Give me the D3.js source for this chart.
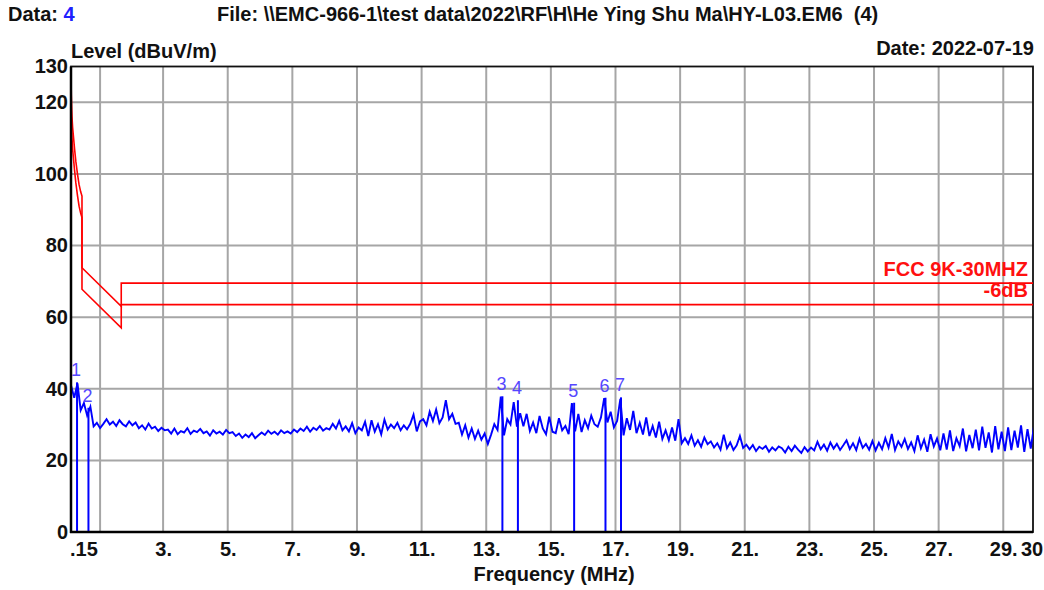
<!DOCTYPE html>
<html>
<head>
<meta charset="utf-8">
<script src="https://cdn.jsdelivr.net/npm/d3@7"></script>
<style>
  body { margin: 0; background: #fff; }
  svg { display: block; font-family: "Liberation Sans", Arial, sans-serif; }
</style>
</head>
<body>
<svg width="1044" height="590"></svg>
<script>
// y axis ticks (dBuV/m) and x grid (MHz)
const yTicks = [0, 20, 40, 60, 80, 100, 120, 130];
const yGrid = [20, 40, 60, 80, 100, 120];
const xGrid = [1.05, 3, 5, 7, 9, 11, 13, 15, 17, 19, 21, 23, 25, 27, 29];
const xLabels = [3, 5, 7, 9, 11, 13, 15, 17, 19, 21, 23, 25, 27, 29];

// FCC 9K-30MHZ limit and the -6dB line
const limitMHz = [0.15, 0.16, 0.18, 0.2, 0.23, 0.26, 0.3, 0.35, 0.4, 0.45, 0.49, 0.49, 1.705, 1.705, 30];
const limitLevel = [128.5, 122, 116, 113, 110, 107, 103.5, 100, 97, 95, 93.8, 73.8, 63.0, 69.5, 69.5];
const marginLevel = [122.5, 116, 110, 107, 104, 101, 97.5, 94, 91, 89, 87.8, 67.8, 57.0, 63.5, 63.5];

// measured trace, first point at 0.15 MHz, one point every 0.1 MHz
const traceStart = 0.15;
const traceStep = 0.1;
const traceLevel = [
  41.0, 37.5, 41.5, 34.0, 36.0, 32.5, 35.0, 29.5, 30.5, 29.0,
  30.2, 31.5, 30.0, 30.8, 29.6, 31.2, 30.1, 29.5, 30.9, 29.8,
  30.6, 29.0, 29.8, 28.6, 30.3, 28.9, 29.4, 28.2, 29.1, 28.4,
  28.6, 27.5, 28.9, 27.3, 28.2, 27.8, 29.0, 27.4, 28.3, 27.9,
  28.8, 27.6, 28.1, 26.9, 28.4, 27.5, 28.0, 27.2, 28.5, 27.6,
  27.9, 26.8, 27.5, 26.3, 27.2, 26.5, 27.6, 26.2, 27.0, 27.8,
  27.1, 28.3, 27.4, 28.0, 27.2, 28.4, 27.6, 28.1, 27.5, 28.6,
  27.9, 28.9, 28.2, 29.4, 28.0, 29.1, 28.5, 29.6, 28.3, 29.0,
  28.6, 30.2, 28.9, 31.0, 28.4, 29.5, 28.1, 30.4, 27.6, 29.2,
  28.4, 30.8, 26.8, 31.2, 28.0, 30.1, 27.3, 31.4, 28.6, 30.0,
  29.0, 30.5, 28.4, 29.8, 28.7, 30.2, 32.8, 28.1, 30.9, 31.5,
  29.8, 33.6, 31.0, 34.2, 30.4, 32.0, 36.8, 31.5, 33.0, 30.2,
  30.5, 27.2, 29.8, 26.4, 28.9, 26.0, 28.3, 25.8, 27.5, 24.6,
  27.2, 30.1, 28.5, 37.8, 27.0, 31.5, 30.0, 36.3, 29.4, 33.2,
  29.5, 33.0, 28.2, 30.6, 27.6, 32.4, 28.9, 27.3, 32.2, 28.0,
  27.6, 31.8, 28.4, 29.6, 27.3, 36.0, 28.1, 33.0, 27.9, 31.2,
  29.0, 32.5, 30.1, 29.4, 32.0, 37.4, 30.6, 33.6, 29.2, 31.0,
  37.2, 27.0, 31.8, 28.5, 33.8, 27.6, 30.5, 27.2, 32.0, 26.8,
  29.6, 26.4, 30.8, 26.0, 28.4, 25.6, 29.2, 25.5, 31.5, 24.8,
  26.2, 24.6, 27.0, 24.1, 25.6, 23.8, 26.4, 24.5, 25.3, 23.6,
  24.8, 23.0, 27.2, 23.4, 25.0, 22.9, 24.2, 26.8, 23.5, 24.4,
  23.1, 24.3, 22.6, 23.8, 23.2, 24.0, 22.4, 23.6, 22.8, 23.9,
  23.4, 22.2, 23.8, 22.6, 24.1, 23.0, 22.1, 23.7, 22.5, 23.6,
  22.8, 25.2, 23.1, 24.4, 22.7, 25.0, 23.3, 24.6, 22.9, 24.2,
  25.6, 23.2, 24.8, 22.9, 26.0, 23.5, 24.6, 23.0, 25.4, 22.8,
  24.9, 23.1, 26.2, 23.6, 27.4, 22.9, 25.3, 23.8, 26.0, 23.2,
  25.0, 22.6, 27.0, 23.4, 25.8, 22.4, 27.3, 23.9, 26.1, 22.8,
  27.5, 23.0, 28.4, 22.6, 26.2, 24.0, 28.9, 22.5, 27.1, 23.4,
  28.6, 22.8, 29.4, 23.5, 27.8, 22.2, 29.6, 23.1, 28.0, 22.6,
  29.2, 22.9, 28.3, 23.6, 29.8, 22.4, 28.7, 23.3, 29.5
];

// markers
const markerNo = [1, 2, 3, 4, 5, 6, 7];
const markerMHz = [0.337, 0.69, 13.50, 13.98, 15.72, 16.69, 17.17];
const markerLevel = [41.8, 34.7, 37.9, 36.8, 36.1, 37.5, 37.6];

const svg = d3.select("svg");
const font = "'Liberation Sans', Arial, sans-serif";

const x = d3.scaleLinear().domain([0.15, 29.92]).range([71, 1033]);
const y = d3.scaleLinear().domain([0, 130]).range([532, 66.5]);

svg.append("clipPath").attr("id", "plot")
  .append("rect")
  .attr("x", x(0.15)).attr("y", y(130))
  .attr("width", x(29.92) - x(0.15)).attr("height", y(0) - y(130));

// grid
svg.append("g").selectAll("line").data(yGrid).enter().append("line")
  .attr("x1", x(0.15)).attr("x2", x(29.92))
  .attr("y1", d => y(d)).attr("y2", d => y(d))
  .attr("stroke", "#a6a6a6").attr("stroke-width", 2);

svg.append("g").selectAll("line").data(xGrid).enter().append("line")
  .attr("x1", d => x(d)).attr("x2", d => x(d))
  .attr("y1", y(0)).attr("y2", y(130))
  .attr("stroke", "#a6a6a6").attr("stroke-width", 2);

// frame
svg.append("rect")
  .attr("x", x(0.15)).attr("y", y(130))
  .attr("width", x(29.92) - x(0.15)).attr("height", y(0) - y(130))
  .attr("fill", "none").attr("stroke", "#111").attr("stroke-width", 1.8);

// limit lines
const limitLine = d3.line().x((d, i) => x(limitMHz[i])).y(d => y(d));
[limitLevel, marginLevel].forEach(levels => {
  svg.append("path")
    .attr("d", limitLine(levels))
    .attr("clip-path", "url(#plot)")
    .attr("fill", "none").attr("stroke", "#ff0000").attr("stroke-width", 1.6);
});

svg.append("text").attr("x", 1028).attr("y", 276)
  .attr("text-anchor", "end").attr("fill", "#ff1010")
  .attr("font-size", 20).attr("font-weight", "bold")
  .text("FCC 9K-30MHZ");
svg.append("text").attr("x", 1028).attr("y", 297)
  .attr("text-anchor", "end").attr("fill", "#ff1010")
  .attr("font-size", 20).attr("font-weight", "bold")
  .text("-6dB");

// trace
const traceLine = d3.line()
  .x((d, i) => x(traceStart + i * traceStep))
  .y(d => y(d));
svg.append("path")
  .attr("d", traceLine(traceLevel))
  .attr("clip-path", "url(#plot)")
  .attr("fill", "none").attr("stroke", "#0000ff").attr("stroke-width", 1.9);

// markers
const markers = svg.append("g").selectAll("g").data(markerNo).enter().append("g");
markers.append("line")
  .attr("x1", (d, i) => x(markerMHz[i])).attr("x2", (d, i) => x(markerMHz[i]))
  .attr("y1", (d, i) => y(markerLevel[i])).attr("y2", y(0))
  .attr("stroke", "#0000ff").attr("stroke-width", 2);
markers.append("text")
  .attr("x", (d, i) => x(markerMHz[i]) - 1)
  .attr("y", (d, i) => y(markerLevel[i]) - 6)
  .attr("text-anchor", "middle").attr("fill", "#5546ff")
  .attr("font-size", 18)
  .text(d => d);

// axes lines
svg.append("line").attr("x1", x(0.15)).attr("x2", x(0.15))
  .attr("y1", y(0) + 1).attr("y2", y(130))
  .attr("stroke", "#000").attr("stroke-width", 2.5);
svg.append("line").attr("x1", x(0.15) - 1).attr("x2", x(29.92))
  .attr("y1", y(0)).attr("y2", y(0))
  .attr("stroke", "#000").attr("stroke-width", 2.5);

// y axis labels
const yAxis = svg.append("g")
  .attr("transform", `translate(${x(0.15)},0)`)
  .call(d3.axisLeft(y).tickValues(yTicks).tickSize(0).tickPadding(3).tickFormat(d => d));
yAxis.select(".domain").remove();
yAxis.selectAll("text")
  .attr("font-family", font).attr("font-size", 20).attr("font-weight", "bold")
  .attr("fill", "#111");

// x axis labels
const xAxis = svg.append("g")
  .attr("transform", `translate(0,${y(0)})`)
  .call(d3.axisBottom(x).tickValues(xLabels).tickSize(0).tickPadding(10).tickFormat(d => d + "."));
xAxis.select(".domain").remove();
xAxis.selectAll("text")
  .attr("font-family", font).attr("font-size", 20).attr("font-weight", "bold")
  .attr("fill", "#111");

svg.append("text").attr("x", 70).attr("y", 556)
  .attr("font-size", 20).attr("font-weight", "bold").attr("fill", "#111")
  .text(".15");
svg.append("text").attr("x", 1021).attr("y", 556)
  .attr("font-size", 20).attr("font-weight", "bold").attr("fill", "#111")
  .text("30");

svg.append("text").attr("x", (x(0.15) + x(29.92)) / 2 + 2).attr("y", 581)
  .attr("text-anchor", "middle")
  .attr("font-size", 20).attr("font-weight", "bold").attr("fill", "#111")
  .text("Frequency (MHz)");

// header texts
const dataLabel = svg.append("text").attr("x", 8).attr("y", 21)
  .attr("font-size", 20).attr("font-weight", "bold").attr("fill", "#111");
dataLabel.append("tspan").text("Data: ");
dataLabel.append("tspan").attr("fill", "#2020ff").text("4");

svg.append("text").attr("x", 217).attr("y", 21)
  .attr("font-size", 20).attr("font-weight", "bold").attr("fill", "#111")
  .attr("xml:space", "preserve")
  .text("File: \\\\EMC-966-1\\test data\\2022\\RF\\H\\He Ying Shu Ma\\HY-L03.EM6  (4)");

svg.append("text").attr("x", 71).attr("y", 58)
  .attr("font-size", 20).attr("font-weight", "bold").attr("fill", "#111")
  .text("Level (dBuV/m)");

svg.append("text").attr("x", 1034).attr("y", 55)
  .attr("text-anchor", "end")
  .attr("font-size", 20).attr("font-weight", "bold").attr("fill", "#111")
  .text("Date: 2022-07-19");
</script>
</body>
</html>
